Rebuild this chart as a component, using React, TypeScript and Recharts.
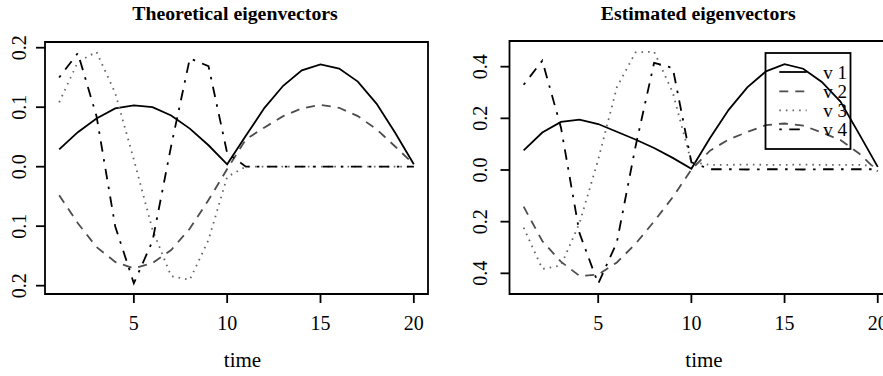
import React from 'react';
import { LineChart, Line, XAxis, YAxis, ReferenceArea } from 'recharts';

// ---------- data ----------
const time = [1, 2, 3, 4, 5, 6, 7, 8, 9, 10, 11, 12, 13, 14, 15, 16, 17, 18, 19, 20];

const theoV1 = [0.029, 0.058, 0.081, 0.098, 0.103, 0.1, 0.086, 0.064, 0.036, 0.004, 0.052, 0.099, 0.136, 0.162, 0.172, 0.165, 0.143, 0.106, 0.057, 0.004];
const theoV2 = [-0.048, -0.095, -0.135, -0.16, -0.171, -0.162, -0.14, -0.104, -0.056, -0.004, 0.046, 0.066, 0.085, 0.098, 0.104, 0.099, 0.085, 0.063, 0.034, 0.004];
const theoV3 = [0.108, 0.176, 0.193, 0.124, 0.012, -0.106, -0.184, -0.19, -0.123, -0.017, 0, 0, 0, 0, 0, 0, 0, 0, 0, 0];
const theoV4 = [0.15, 0.191, 0.085, -0.1, -0.196, -0.125, 0.035, 0.182, 0.169, 0.023, 0, 0, 0, 0, 0, 0, 0, 0, 0, 0];

const estV1 = [0.076, 0.145, 0.186, 0.195, 0.178, 0.148, 0.118, 0.085, 0.047, 0.005, 0.124, 0.233, 0.32, 0.382, 0.41, 0.392, 0.341, 0.265, 0.14, 0.012];
const estV2 = [-0.142, -0.275, -0.355, -0.41, -0.405, -0.358, -0.286, -0.199, -0.105, 0.002, 0.075, 0.118, 0.147, 0.174, 0.18, 0.172, 0.145, 0.116, 0.064, -0.005];
const estV3 = [-0.223, -0.383, -0.37, -0.205, 0.04, 0.32, 0.455, 0.458, 0.3, 0.03, 0.02, 0.02, 0.021, 0.02, 0.02, 0.021, 0.02, 0.02, 0.02, 0.015];
const estV4 = [0.33, 0.423, 0.165, -0.245, -0.44, -0.28, 0.09, 0.415, 0.395, 0.03, 0.003, 0.003, 0.002, 0.003, 0.003, 0.002, 0.003, 0.003, 0.003, 0.003];

const seriesNames = ['v 1', 'v 2', 'v 3', 'v 4'];

const xTicks = [5, 10, 15, 20];
const xTickLabels = ['5', '10', '15', '20'];

const theoYTicks = [-0.2, -0.1, 0, 0.1, 0.2];
const theoYTickLabels = ['0.2', '0.1', '0.0', '0.1', '0.2'];
const estYTicks = [-0.4, -0.2, 0, 0.2, 0.4];
const estYTickLabels = ['0.4', '0.2', '0.0', '0.2', '0.4'];

const titles = ['Theoretical eigenvectors', 'Estimated eigenvectors'];
const xLabel = 'time';

// ---------- styles ----------
const FONT = '"Liberation Serif", "Times New Roman", Times, serif';
const LW = 1.8;
const seriesStyle = [
  { key: 'v1', stroke: '#000000', dash: undefined as string | undefined },
  { key: 'v2', stroke: '#4d4d4d', dash: '9 7' },
  { key: 'v3', stroke: '#666666', dash: '1.6 5' },
  { key: 'v4', stroke: '#000000', dash: '2.5 7.5 10.5 7.5' },
];

const xDomain: [number, number] = [0.24, 20.76];
const theoYDomain: [number, number] = [-0.214, 0.2096];
const estYDomain: [number, number] = [-0.48, 0.4994];

function buildRows(a: number[], b: number[], c: number[], d: number[]) {
  return time.map((t, i) => ({ t, v1: a[i], v2: b[i], v3: c[i], v4: d[i] }));
}

const theoRows = buildRows(theoV1, theoV2, theoV3, theoV4);
const estRows = buildRows(estV1, estV2, estV3, estV4);

function labelFor(v: number, ticks: number[], labels: string[]) {
  const i = ticks.findIndex((t) => Math.abs(t - v) < 1e-9);
  return i >= 0 ? labels[i] : String(v);
}

type PanelProps = {
  rows: ReturnType<typeof buildRows>;
  yDomain: [number, number];
  yTicks: number[];
  yTickLabels: string[];
  width: number;
  margin: { top: number; right: number; bottom: number; left: number };
  yLabelX: number;
};

function Panel({ rows, yDomain, yTicks, yTickLabels, width, margin, yLabelX }: PanelProps) {
  const renderYTick = (props: any) => {
    const { y, payload } = props;
    const lab = labelFor(payload.value, yTicks, yTickLabels);
    return (
      <text
        x={yLabelX}
        y={y}
        transform={`rotate(-90 ${yLabelX} ${y})`}
        textAnchor="middle"
        fontFamily={FONT}
        fontSize={20}
        fill="#000"
      >
        {lab}
      </text>
    );
  };
  const renderXTick = (props: any) => {
    const { x, payload } = props;
    const lab = labelFor(payload.value, xTicks, xTickLabels);
    return (
      <text x={x} y={330} textAnchor="middle" fontFamily={FONT} fontSize={20} fill="#000">
        {lab}
      </text>
    );
  };
  return (
    <LineChart width={width} height={376} data={rows} margin={margin}>
      <XAxis
        dataKey="t"
        type="number"
        domain={xDomain}
        ticks={xTicks}
        interval={0}
        allowDataOverflow
        axisLine={false}
        tickSize={9}
        tickLine={{ stroke: '#000', strokeWidth: LW }}
        tick={renderXTick}
        height={30}
      />
      <YAxis
        type="number"
        domain={yDomain}
        ticks={yTicks}
        interval={0}
        allowDataOverflow
        axisLine={false}
        tickSize={9}
        tickLine={{ stroke: '#000', strokeWidth: LW }}
        tick={renderYTick}
        width={30}
      />
      {seriesStyle.map((s) => (
        <Line
          key={s.key}
          type="linear"
          dataKey={s.key}
          stroke={s.stroke}
          strokeWidth={LW}
          strokeDasharray={s.dash}
          dot={false}
          activeDot={false}
          isAnimationActive={false}
        />
      ))}
      <ReferenceArea
        x1={xDomain[0]}
        x2={xDomain[1]}
        y1={yDomain[0]}
        y2={yDomain[1]}
        fill="none"
        fillOpacity={0}
        stroke="#000"
        strokeWidth={LW}
        ifOverflow="visible"
      />
    </LineChart>
  );
}

export default function App() {
  const legendX = 765.5;
  const legendY = 53;
  const rowYs = [72, 91.3, 110.3, 129.3];
  return (
    <div
      style={{
        position: 'absolute',
        left: 0,
        top: 0,
        width: 883,
        height: 376,
        overflow: 'hidden',
        background: '#fff',
      }}
    >
      <div style={{ position: 'absolute', left: 0, top: 0 }}>
        <Panel
          rows={theoRows}
          yDomain={theoYDomain}
          yTicks={theoYTicks}
          yTickLabels={theoYTickLabels}
          width={440}
          margin={{ top: 42, right: 12, bottom: 52, left: 15 }}
          yLabelX={26}
        />
      </div>
      <div style={{ position: 'absolute', left: 440, top: 0 }}>
        <Panel
          rows={estRows}
          yDomain={estYDomain}
          yTicks={estYTicks}
          yTickLabels={estYTickLabels}
          width={460}
          margin={{ top: 41, right: 8.1, bottom: 52, left: 39.5 }}
          yLabelX={46.7}
        />
      </div>
      <svg
        width={883}
        height={376}
        style={{ position: 'absolute', left: 0, top: 0, pointerEvents: 'none' }}
      >
        <text x={235} y={20} textAnchor="middle" fontFamily={FONT} fontWeight="bold" fontSize={19.8} fill="#000">
          {titles[0]}
        </text>
        <text x={698.3} y={20} textAnchor="middle" fontFamily={FONT} fontWeight="bold" fontSize={19.8} fill="#000">
          {titles[1]}
        </text>
        <text x={242.5} y={367} textAnchor="middle" fontFamily={FONT} fontSize={21} fill="#000">
          {xLabel}
        </text>
        <text x={704} y={367} textAnchor="middle" fontFamily={FONT} fontSize={21} fill="#000">
          {xLabel}
        </text>
        <rect x={legendX} y={legendY} width={85} height={96} fill="none" stroke="#000" strokeWidth={LW} />
        {seriesStyle.map((s, i) => (
          <g key={s.key}>
            <line
              x1={779.3}
              x2={806.7}
              y1={rowYs[i]}
              y2={rowYs[i]}
              stroke={s.stroke}
              strokeWidth={LW}
              strokeDasharray={s.dash}
            />
            <text x={823.3} y={rowYs[i] + 6.7} fontFamily={FONT} fontSize={19} fill="#000">
              {seriesNames[i]}
            </text>
          </g>
        ))}
      </svg>
    </div>
  );
}
